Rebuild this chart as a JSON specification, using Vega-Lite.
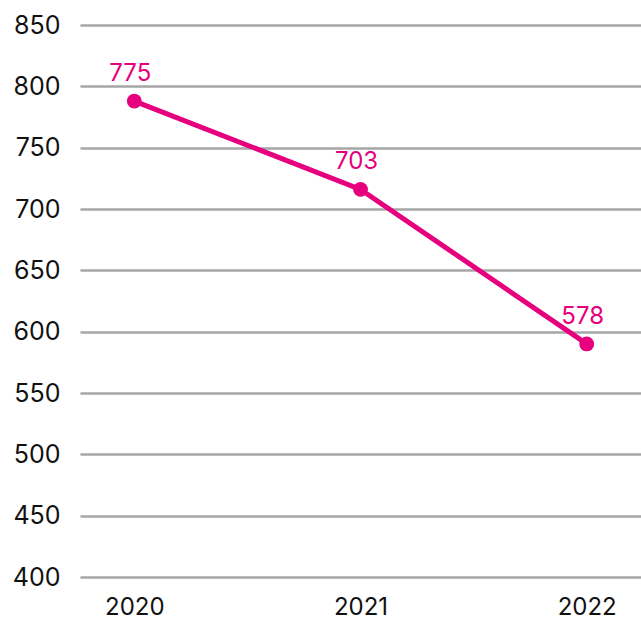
{
  "$schema": "https://vega.github.io/schema/vega-lite/v6.json",
  "width": 561,
  "height": 552,
  "autosize": {"type": "none"},
  "padding": {"left": 80, "top": 25, "right": 0, "bottom": 44},
  "background": "white",
  "config": {
    "view": {"stroke": null},
    "font": "Inter"
  },
  "data": {
    "values": [
      {"year": "2020", "value": 788, "label": 775},
      {"year": "2021", "value": 716, "label": 703},
      {"year": "2022", "value": 590, "label": 578}
    ]
  },
  "encoding": {
    "x": {
      "field": "year", "type": "ordinal",
      "scale": {"type": "point", "padding": 0.24},
      "axis": {"title": null, "labelAngle": 0, "domain": false, "ticks": false, "grid": false,
               "labelFontSize": 24, "labelFont": "Inter", "labelFontWeight": "normal", "labelColor": "#111", "labelPadding": 18}
    },
    "y": {
      "field": "value", "type": "quantitative",
      "scale": {"domain": [400, 850], "nice": false, "zero": false},
      "axis": {"title": null, "values": [400,450,500,550,600,650,700,750,800,850],
               "domain": false, "ticks": false, "grid": true, "gridColor": "#a6a6a6", "gridWidth": 2.5,
               "labelFontSize": 25, "labelFont": "Inter", "labelColor": "#111", "labelPadding": 20}
    }
  },
  "layer": [
    {"mark": {"type": "line", "color": "#e6007e", "strokeWidth": 5}},
    {"mark": {"type": "point", "filled": true, "opacity": 1, "color": "#e6007e", "size": 220}},
    {"mark": {"type": "text", "color": "#e6007e", "fontSize": 24, "font": "Inter", "dy": -27, "dx": -4, "baseline": "middle"},
     "encoding": {"text": {"field": "label", "type": "quantitative"}}}
  ]
}
